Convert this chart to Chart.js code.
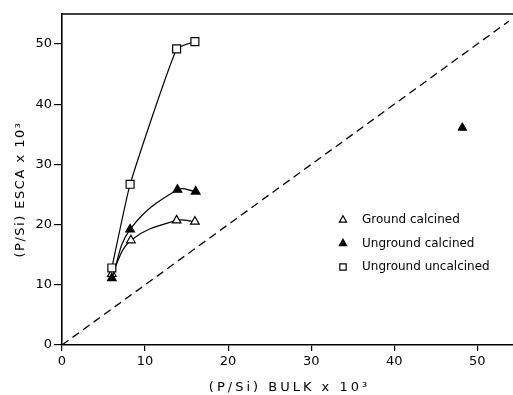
<!DOCTYPE html>
<html>
<head>
<meta charset="utf-8">
<script src="https://cdn.jsdelivr.net/npm/chart.js@4.4.1/dist/chart.umd.min.js"></script>
<style>
  html, body { margin: 0; padding: 0; background: #fff; }
  #wrap { width: 513px; height: 395px; }
</style>
</head>
<body>
<div id="wrap"><canvas id="c" width="513" height="395"></canvas></div>
<script>
// ---- data ----
const xTickValues = [0, 10, 20, 30, 40, 50];
const yTickValues = [0, 10, 20, 30, 40, 50];

const groundCalcinedX = [6.0, 8.3, 13.8, 16.0];
const groundCalcinedY = [11.8, 17.4, 20.7, 20.5];

const ungroundCalcinedX = [6.0, 8.2, 13.9, 16.1];
const ungroundCalcinedY = [11.1, 19.2, 25.8, 25.5];

const ungroundUncalcinedX = [6.0, 8.2, 13.8, 16.0];
const ungroundUncalcinedY = [12.8, 26.7, 49.2, 50.4];

const outlierX = [48.2];
const outlierY = [36.1];

const diagonal = [0, 53.8];   // y = x reference line

const seriesNames = ['Ground calcined', 'Unground calcined', 'Unground uncalcined'];

const xTitle = '(P/Si) BULK x 10\u00B3';
const yTitle = '(P/Si) ESCA x 10\u00B3';

const pts = (xs, ys) => xs.map((x, i) => ({ x: x, y: ys[i] }));

// ---- plugins ----
const titleStyle = {
  id: 'titleStyle',
  beforeDraw(chart) {
    Object.values(chart.scales).forEach(scale => {
      if (scale._patchedTitle) return;
      const orig = scale.drawTitle;
      const isY = scale.id === 'y';
      scale.drawTitle = function () {
        const ctx = this.ctx;
        ctx.save();
        ctx.letterSpacing = isY ? '1.5px' : '3px';
        if (isY) ctx.translate(0, 10); else ctx.translate(2, 0);
        orig.call(this);
        ctx.restore();
      };
      scale._patchedTitle = true;
    });
  }
};

const frame = {
  id: 'frame',
  afterDraw(chart) {
    const { ctx, chartArea } = chart;
    ctx.save();
    ctx.strokeStyle = '#000';
    ctx.lineWidth = 1.5;
    ctx.beginPath();
    ctx.moveTo(chartArea.left, chartArea.top);
    ctx.lineTo(chart.width, chartArea.top);
    ctx.stroke();
    ctx.restore();
  }
};

const insetLegend = {
  id: 'insetLegend',
  afterDraw(chart) {
    const ctx = chart.ctx;
    ctx.save();
    seriesNames.forEach((name, i) => {
      const ds = chart.data.datasets.find(d => d.label === name);
      const y = 220 + i * 23.5;
      ctx.fillStyle = ds.pointBackgroundColor;
      ctx.strokeStyle = ds.pointBorderColor;
      ctx.lineWidth = 1.2;
      Chart.helpers.drawPoint(ctx, { pointStyle: ds.pointStyle, radius: ds.pointStyle === 'rect' ? 4.5 : 4.2, borderWidth: 1.2, rotation: 0 }, 343, y);
      ctx.fillStyle = '#000';
      ctx.font = '12px "DejaVu Sans"';
      ctx.textBaseline = 'middle';
      ctx.textAlign = 'left';
      ctx.fillText(name, 362, y);
    });
    ctx.restore();
  }
};

// ---- chart ----
const lineStyle = { borderColor: '#000', borderWidth: 1.2, showLine: true, pointBorderColor: '#000', pointBorderWidth: 1.2 };

new Chart(document.getElementById('c'), {
  type: 'scatter',
  data: {
    datasets: [
      Object.assign({ label: 'Unground uncalcined', data: pts(ungroundUncalcinedX, ungroundUncalcinedY), pointStyle: 'rect', pointRadius: 5.6, pointBackgroundColor: '#fff', tension: 0.15 }, lineStyle),
      Object.assign({ label: 'Unground calcined', data: pts(ungroundCalcinedX, ungroundCalcinedY), pointStyle: 'triangle', pointRadius: 5, pointBackgroundColor: '#000', tension: 0.4 }, lineStyle),
      Object.assign({ label: 'Ground calcined', data: pts(groundCalcinedX, groundCalcinedY), pointStyle: 'triangle', pointRadius: 5, pointBackgroundColor: '#fff', tension: 0.4 }, lineStyle),
      { label: 'Unground calcined (outlier)', data: pts(outlierX, outlierY), pointStyle: 'triangle', pointRadius: 5, pointBackgroundColor: '#000', pointBorderColor: '#000', showLine: false },
      { label: 'y = x', data: pts(diagonal, diagonal), showLine: true, borderColor: '#000', borderWidth: 1.3, borderDash: [8, 5], pointRadius: 0 }
    ]
  },
  options: {
    responsive: false,
    animation: false,
    layout: { autoPadding: false, padding: { top: 14, right: 0, left: 0, bottom: 0 } },
    plugins: { legend: { display: false }, tooltip: { enabled: false } },
    scales: {
      x: {
        type: 'linear', min: 0, max: 54.3,
        afterFit(s) { s.height = 50; s.paddingRight = 0; s.paddingLeft = 0; },
        afterBuildTicks(s) { s.ticks = xTickValues.map(v => ({ value: v })); },
        grid: { drawOnChartArea: false, drawTicks: true, tickLength: 6, color: '#000', lineWidth: 1.2 },
        border: { display: true, color: '#000', width: 1.6 },
        ticks: { color: '#000', padding: 3, font: { family: 'DejaVu Sans', size: 13 }, maxRotation: 0 },
        title: { display: true, text: xTitle, color: '#000', font: { family: 'DejaVu Sans', size: 13 }, padding: { top: 0, bottom: 0 } }
      },
      y: {
        type: 'linear', min: 0, max: 55,
        afterFit(s) { s.width = 62; s.paddingTop = 0; s.paddingBottom = 0; },
        afterBuildTicks(s) { s.ticks = yTickValues.map(v => ({ value: v })); },
        grid: { drawOnChartArea: false, drawTicks: true, tickLength: 8, color: '#000', lineWidth: 1.2 },
        border: { display: true, color: '#000', width: 1.6 },
        ticks: { color: '#000', padding: 2, font: { family: 'DejaVu Sans', size: 13 } },
        title: { display: true, text: yTitle, color: '#000', font: { family: 'DejaVu Sans', size: 13 }, padding: { top: 13, bottom: 0 } }
      }
    }
  },
  plugins: [titleStyle, frame, insetLegend]
});
</script>
</body>
</html>
